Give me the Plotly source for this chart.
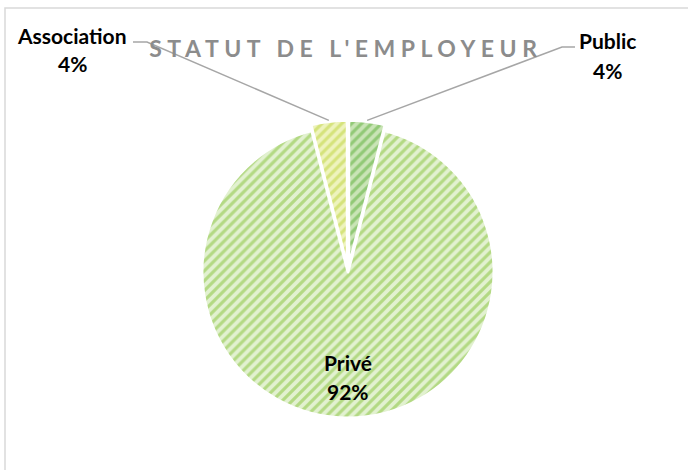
import math
import plotly.graph_objects as go

# ---- data ----
labels = ["Public", "Privé", "Association"]
values = [4, 92, 4]
title_text = "STATUT DE L'EMPLOYEUR"

# ---- style ----
W, H = 688, 470
bg_colors = ["#c9e4b6", "#e2f1d0", "#eef3bd"]
fg_colors = ["#5aad35", "#84c236", "#bcd33a"]
pulls = [0.04, 0, 0.04]

cx, cy, r = 348, 272, 146           # pie centre / radius in pixels
maxpull = max(pulls)
half = r * (1 + maxpull)
dom_x = [(cx - half) / W, (cx + half) / W]
dom_y = [1 - (cy + half) / H, 1 - (cy - half) / H]

fig = go.Figure(go.Pie(
    labels=labels, values=values, sort=False, direction="clockwise", rotation=0,
    pull=pulls, textinfo="none", hoverinfo="label+percent",
    marker=dict(colors=bg_colors, line=dict(color="white", width=3),
                pattern=dict(shape="/", fgcolor=fg_colors, bgcolor=bg_colors,
                             fillmode="overlay", size=7, solidity=0.45)),
    domain=dict(x=dom_x, y=dom_y), showlegend=False,
))

def px2paper(x, y):
    return x / W, 1 - y / H

shapes = [dict(type="rect", xref="paper", yref="paper",
               x0=5 / W, x1=1.02, y0=-0.02, y1=1 - 8 / H,
               line=dict(color="#d9d9d9", width=1.5), fillcolor="rgba(0,0,0,0)")]
annotations = []
font = dict(family="Lato, 'Open Sans', sans-serif", size=21, color="#000000")

total = sum(values)
cum = 0
# label anchor positions (pixels): name centre, percent centre, elbow
label_pos = {
    "Public": dict(x=607, y_name=41, y_pct=70, elbow=(562, 47), end=(575, 47)),
    "Association": dict(x=72, y_name=35, y_pct=64, elbow=(147, 42), end=(133, 42)),
    "Privé": dict(x=348, y_name=362, y_pct=391),
}
for lab, v, p in zip(labels, values, pulls):
    mid = (cum + v / 2) / total * 2 * math.pi
    cum += v
    pct = f"{round(v / total * 100)}%"
    lp = label_pos[lab]
    for txt, yy in ((lab, lp["y_name"]), (pct, lp["y_pct"])):
        xp, yp = px2paper(lp["x"], yy)
        annotations.append(dict(text=f"<b>{txt}</b>", x=xp, y=yp, xref="paper", yref="paper",
                                showarrow=False, font=font, xanchor="center", yanchor="middle"))
    if "elbow" in lp:
        rr = r * (1 + p) + 1
        ex, ey = cx + rr * math.sin(mid), cy - rr * math.cos(mid)
        pts = [lp["end"], lp["elbow"], (ex, ey)]
        path = ""
        for i, (a, b) in enumerate(pts):
            xa, ya = px2paper(a, b)
            path += ("M" if i == 0 else "L") + f"{xa},{ya} "
        shapes.append(dict(type="path", xref="paper", yref="paper", path=path.strip(),
                           line=dict(color="#a6a6a6", width=1.5)))

xt, yt = px2paper(346, 48)
annotations.append(dict(text=f"<b>{title_text}</b>", x=xt, y=yt, xref="paper", yref="paper",
                        showarrow=False, xanchor="center", yanchor="middle",
                        font=dict(family="Lato, 'Open Sans', sans-serif", size=23, color="#8c8c8c")))

fig.update_layout(width=W, height=H, margin=dict(l=0, r=0, t=0, b=0),
                  paper_bgcolor="white", plot_bgcolor="white",
                  shapes=shapes, annotations=annotations)

post = """
document.body.style.margin = '0';
document.body.style.overflow = 'hidden';
document.querySelectorAll('.annotation-text').forEach(function(t){
  if (t.textContent.indexOf('STATUT') === 0) { t.style.letterSpacing = '5.5px'; }
});
"""
fig.write_html("out.html", post_script=post, config={"displayModeBar": False})
